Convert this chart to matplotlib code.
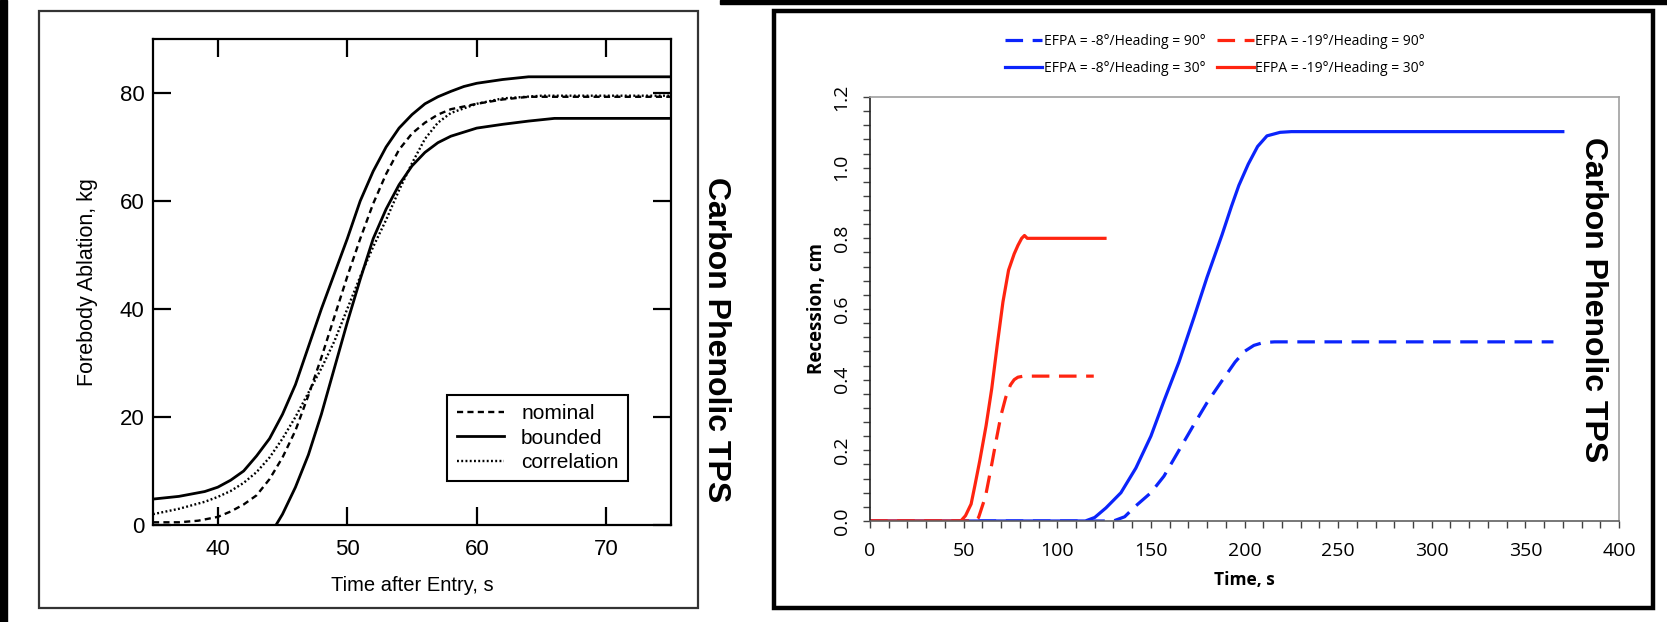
import matplotlib
matplotlib.use("Agg")
from matplotlib import pyplot as plt
from matplotlib.patches import Rectangle
from matplotlib.ticker import MultipleLocator, FormatStrFormatter

# left panel: forebody ablation vs time
t_nominal = [35, 37, 38.5, 40, 41, 42, 43, 44, 45, 46, 47, 48, 49, 50, 51, 52, 53,
             54, 55, 56, 57, 58, 60, 62, 64, 75]
abl_nominal = [0.5, 0.5, 0.8, 1.5, 2.5, 3.8, 5.5, 8.5, 12.5, 17.5, 24, 31, 38.5, 46,
               53, 59.5, 65, 69.5, 72.5, 74.5, 76, 77, 78, 78.8, 79.3, 79.3]
t_upper = [35, 37, 39, 40, 41, 42, 43, 44, 45, 46, 47, 48, 49, 50, 51, 52, 53, 54,
           55, 56, 57, 58, 59, 60, 62, 64, 75]
abl_upper = [4.8, 5.3, 6.2, 7, 8.3, 10, 12.8, 16, 20.5, 26, 33, 40, 46.5, 53, 60,
             65.5, 70, 73.5, 76, 78, 79.3, 80.3, 81.2, 81.8, 82.5, 83, 83]
t_lower = [44.5, 45, 46, 47, 48, 49, 50, 51, 52, 53, 54, 55, 56, 57, 58, 60, 62, 64,
           66, 75]
abl_lower = [0, 2, 7, 13, 20.5, 29, 37.5, 45.5, 53, 58.5, 63, 66.5, 69, 70.8, 72,
             73.5, 74.2, 74.8, 75.3, 75.3]
t_corr = [35, 37, 39, 40, 41, 42, 43, 44, 45, 46, 47, 48, 49, 50, 51, 52, 53, 54,
          55, 56, 57, 58, 60, 62, 65, 75]
abl_corr = [2, 3, 4.3, 5.2, 6.3, 7.8, 9.8, 12.5, 16, 20, 24.5, 29, 34, 40, 46, 51.5,
            56.5, 62, 67, 71.5, 74.5, 76.3, 78, 79, 79.5, 79.5]

# right panel: recession vs time
t_b30 = [0, 115, 120, 126, 134, 142, 150, 157, 165, 173, 180, 188, 193, 197, 202,
         207, 212, 219, 225, 370]
rec_b30 = [0, 0, 0.01, 0.037, 0.08, 0.15, 0.24, 0.34, 0.45, 0.576, 0.69, 0.81, 0.89,
           0.95, 1.01, 1.06, 1.09, 1.10, 1.102, 1.102]
t_b90 = [0, 130, 136, 142, 150, 157, 165, 173, 180, 188, 195, 200, 205, 210, 216, 365]
rec_b90 = [0, 0, 0.012, 0.043, 0.08, 0.127, 0.2, 0.273, 0.335, 0.397, 0.45, 0.48,
           0.497, 0.505, 0.507, 0.507]
t_r30 = [0, 48.5, 51, 54, 56, 58.6, 62, 65, 68, 71, 74, 77, 79, 81, 82.5, 84, 125.5]
rec_r30 = [0, 0, 0.015, 0.048, 0.1, 0.17, 0.27, 0.374, 0.5, 0.62, 0.71, 0.756, 0.78,
           0.80, 0.808, 0.80, 0.80]
t_r90 = [0, 56, 58, 61.7, 65, 67.8, 70, 72.5, 75, 77, 79, 82, 119.5]
rec_r90 = [0, 0, 0.01, 0.07, 0.16, 0.24, 0.3, 0.35, 0.385, 0.40, 0.407, 0.41, 0.41]

labels_right = ["EFPA = -8°/Heading = 90°", "EFPA = -8°/Heading = 30°",
                "EFPA = -19°/Heading = 90°", "EFPA = -19°/Heading = 30°"]

W, H = 1667, 622
fig = plt.figure(figsize=(W / 100, H / 100), dpi=100)

def box(x0, y0, x1, y1):
    # pixel box -> figure fraction rect
    return [x0 / W, 1 - y1 / H, (x1 - x0) / W, (y1 - y0) / H]

# black page edges
fig.patches.append(Rectangle((0, 0), 7 / W, 1, transform=fig.transFigure,
                             color="black", zorder=0))
fig.patches.append(Rectangle((720 / W, 1 - 4 / H), 1, 4 / H, transform=fig.transFigure,
                             color="black", zorder=0))
# frames
fig.patches.append(Rectangle((39 / W, 1 - 608 / H), 659 / W, 597 / H, fill=False,
                             lw=1.6, ec="#333333", transform=fig.transFigure))
fig.patches.append(Rectangle((774 / W, 1 - 608 / H), 879 / W, 597 / H, fill=False,
                             lw=3.2, ec="black", transform=fig.transFigure))

# ---- left panel
arial = "Liberation Sans"
ax1 = fig.add_axes(box(153, 39, 671, 525))
ax1.plot(t_nominal, abl_nominal, color="black", lw=1.7, ls=(0, (2.6, 1.8)), label="nominal")
ax1.plot(t_upper, abl_upper, color="black", lw=2.0, label="bounded")
ax1.plot(t_lower, abl_lower, color="black", lw=2.0)
ax1.plot(t_corr, abl_corr, color="black", lw=1.7, ls=(0, (0.8, 1.0)), label="correlation")
ax1.set_xlim(35, 75)
ax1.set_ylim(0, 90)
ax1.set_xticks([40, 50, 60, 70])
ax1.set_yticks([0, 20, 40, 60, 80])
ax1.tick_params(direction="in", length=13, width=1.6, top=True, right=True,
                labelsize=16)
ax1.tick_params(axis="x", pad=10)
ax1.tick_params(axis="y", pad=6)
for lab in ax1.get_xticklabels() + ax1.get_yticklabels():
    lab.set_family(arial)
for s in ax1.spines.values():
    s.set_linewidth(1.6)
ax1.set_xlabel("Time after Entry, s", fontsize=14.5, family=arial)
ax1.set_ylabel("Forebody Ablation, kg", fontsize=15.5, family=arial)
ax1.xaxis.set_label_coords(0.5, -0.105)
ax1.yaxis.set_label_coords(-0.106, 0.5)
leg1 = ax1.legend(loc="lower right", bbox_to_anchor=(0.917, 0.09), borderaxespad=0,
                  prop={"family": arial, "size": 15}, fancybox=False, framealpha=1,
                  edgecolor="black", handlelength=2.3, handletextpad=0.8,
                  labelspacing=0.25, borderpad=0.45)
leg1.get_frame().set_linewidth(1.5)

fig.text(716 / W, 1 - 340 / H, "Carbon Phenolic TPS", rotation=270, ha="center",
         va="center", fontsize=23, fontweight="bold", family=arial)

# ---- right panel
opens = "Open Sans"
blue = "#0b24fb"
red = "#ff2410"
dash = (0, (5.5, 3))
ax2 = fig.add_axes(box(870, 97, 1619, 521))
l1, = ax2.plot(t_b90, rec_b90, color=blue, lw=2.3, ls=dash)
l2, = ax2.plot(t_b30, rec_b30, color=blue, lw=2.3)
l3, = ax2.plot(t_r90, rec_r90, color=red, lw=2.3, ls=dash)
l4, = ax2.plot(t_r30, rec_r30, color=red, lw=2.3)
ax2.set_xlim(0, 400)
ax2.set_ylim(0, 1.2)
ax2.xaxis.set_major_locator(MultipleLocator(50))
ax2.xaxis.set_minor_locator(MultipleLocator(10))
ax2.yaxis.set_major_locator(MultipleLocator(0.2))
ax2.yaxis.set_minor_locator(MultipleLocator(0.04))
ax2.yaxis.set_major_formatter(FormatStrFormatter("%.1f"))
ax2.tick_params(which="both", direction="out", length=5, width=1.0, color="#404040",
                pad=10)
ax2.tick_params(axis="x", labelsize=14)
ax2.tick_params(axis="y", labelsize=14, pad=9)
for lab in ax2.get_xticklabels() + ax2.get_yticklabels():
    lab.set_family(opens)
for lab in ax2.get_yticklabels():
    lab.set_rotation(90)
    lab.set_va("center")
ax2.spines["left"].set_color("#202020")
ax2.spines["bottom"].set_color("#606060")
ax2.spines["top"].set_color("#a0a0a0")
ax2.spines["right"].set_color("#a0a0a0")
for s in ax2.spines.values():
    s.set_linewidth(1.2)
ax2.set_xlabel("Time, s", fontsize=12.5, fontweight="bold", family=opens)
ax2.set_ylabel("Recession, cm", fontsize=13.5, fontweight="bold", family=opens)
ax2.xaxis.set_label_coords(0.5, -0.118)
ax2.yaxis.set_label_coords(-0.058, 0.5)
fig.legend([l1, l2, l3, l4], labels_right, loc="center", ncol=2,
           bbox_to_anchor=(1215 / W, 1 - 55 / H), frameon=False,
           prop={"family": opens, "size": 10}, handlelength=2.7, handletextpad=0.1,
           columnspacing=0.8, labelspacing=0.9)

fig.text(1593 / W, 1 - 300 / H, "Carbon Phenolic TPS", rotation=270, ha="center",
         va="center", fontsize=23, fontweight="bold", family=arial)

fig.savefig("out.png", dpi=100)
